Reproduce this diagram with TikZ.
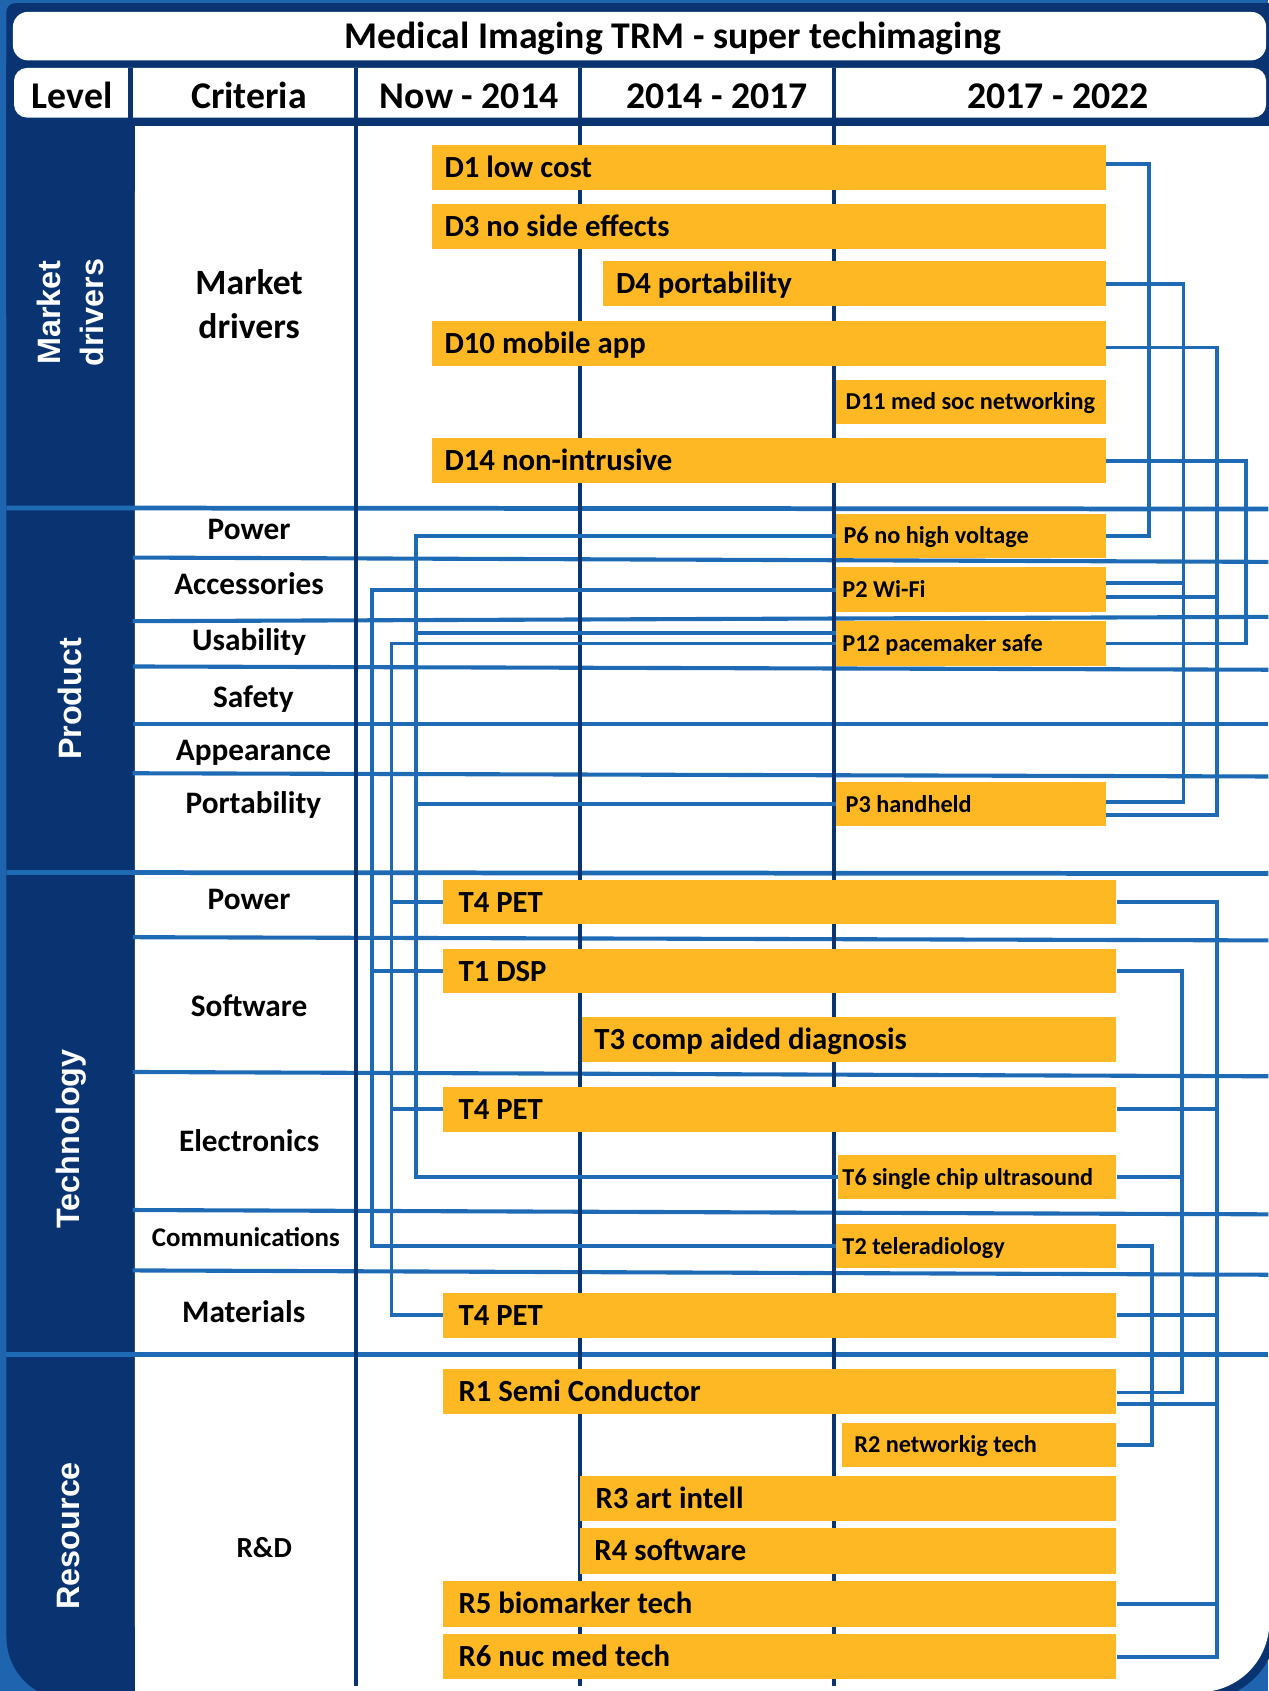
\documentclass[tikz,border=0pt]{standalone}
\usepackage{fontspec}
\setmainfont{Carlito}
\newfontfamily\levelfont{Liberation Sans}
\usetikzlibrary{positioning}

\definecolor{trmsky}{HTML}{1F64AE}
\definecolor{trmline}{HTML}{1E6AB4}
\definecolor{trmnavy}{HTML}{0A3371}
\definecolor{trmgold}{HTML}{FDB824}

\begin{document}
\begin{tikzpicture}[x=1pt, y=-1pt,
    bar/.style={fill=trmgold, anchor=north west, inner sep=0pt, minimum height=42pt},
    bartext/.style={anchor=west, inner sep=0pt, text height=18.4pt, text depth=0pt,
      font=\bfseries\fontsize{28.5}{30}\selectfont},
    smalltext/.style={bartext, text height=14.5pt, font=\bfseries\fontsize{22.5}{24}\selectfont},
    crit/.style={anchor=base, font=\bfseries\fontsize{29}{33}\selectfont},
    level/.style={rotate=90, text=white, align=center, text depth=0pt,
      font=\levelfont\bfseries\fontsize{30}{40}\selectfont},
    head/.style={anchor=base, font=\bfseries\fontsize{35}{38}\selectfont},
    link/.style={trmline, line width=3.6pt},
    divider/.style={trmline, line width=3.8pt},
    column/.style={trmnavy, line width=3.6pt}]

  \useasboundingbox (0,0) rectangle (1176,1568);
  \fill[trmsky] (0,0) rectangle (1176,1568);
  \fill[trmnavy, rounded corners=58pt] (6,3) rectangle (700,1576);
  \fill[trmnavy, rounded corners=73pt] (300,3) rectangle (1185,1577);
  \fill[trmnavy, rounded corners=8pt] (6,3) rectangle (1185,300);
  \fill[white, rounded corners=14pt] (12,11) rectangle (1174,56);
  \fill[white, rounded corners=12pt] (13,63) rectangle (1174,109);
  \fill[trmnavy] (119,63) rectangle (123,109);
  \fill[white, rounded corners=65pt] (125,117) rectangle (1177,1569);
  \fill[white] (125,117) rectangle (1100,1569);
  \fill[white] (125,117) rectangle (1177,1450);

  \draw[divider, line width=4.4pt] (6,471) -- (1176,472);
  \draw[divider, line width=4.4pt] (6,809) -- (1176,810);
  \draw[divider, line width=4.4pt] (6,1256) -- (1176,1256);
  \draw[divider] (123,517) -- (1176,521);
  \draw[divider] (123,576) -- (1176,572);
  \draw[divider] (123,618) -- (1176,621);
  \draw[divider] (123,671) -- (1176,671);
  \draw[divider] (123,717) -- (1176,720);
  \draw[divider] (123,869) -- (1176,872);
  \draw[divider] (123,994) -- (1176,998);
  \draw[divider] (123,1122) -- (1176,1126);
  \draw[divider] (123,1178) -- (1176,1182);

  \draw[column] (330,63) -- (330,1563);
  \draw[column] (538,63) -- (538,1563);
  \draw[column] (773,63) -- (773,1563);

  \node[head] (title) at (624,45) {Medical Imaging TRM - super techimaging};
  \node[head] (level) at (67,101) {Level};
  \node[head] (criteria) at (231,101) {Criteria};
  \node[head] (now) at (435,101) {Now - 2014};
  \node[head] (mid) at (665,101) {2014 - 2017};
  \node[head] (late) at (981,101) {2017 - 2022};

  \node[level] (lvl market) at (65,290) {Market\\drivers};
  \node[level] (lvl product) at (65,648) {Product};
  \node[level] (lvl tech) at (63,1056) {Technology};
  \node[level] (lvl resource) at (63,1424) {Resource};

  \node[crit, anchor=center, align=center, text depth=0pt, font=\bfseries\fontsize{33}{41}\selectfont]
    (c market) at (231,282) {Market\\drivers};
  \node[crit] (c power) at (231,500) {Power};
  \node[crit] (c access) at (231,551) {Accessories};
  \node[crit] (c usab) at (231,603) {Usability};
  \node[crit] (c safety) at (235,656) {Safety};
  \node[crit] (c appear) at (235,705) {Appearance};
  \node[crit] (c port) at (235,754) {Portability};
  \node[crit] (c tpower) at (231,843) {Power};
  \node[crit] (c soft) at (231,943) {Software};
  \node[crit] (c elec) at (231,1068) {Electronics};
  \node[crit, font=\bfseries\fontsize{25}{28}\selectfont] (c comm) at (228,1156) {Communications};
  \node[crit] (c mat) at (226,1226) {Materials};
  \node[crit, font=\bfseries\fontsize{27}{30}\selectfont] (c rnd) at (245,1444) {R\&D};

  \node[bar, minimum width=625pt] (d1) at (400,134) {};
  \node[bartext, right=12pt of d1.west] (d1 text) {D1 low cost};
  \node[bar, minimum width=625pt] (d3) at (400,189) {};
  \node[bartext, right=12pt of d3.west] (d3 text) {D3 no side effects};
  \node[bar, minimum width=466pt] (d4) at (559,242) {};
  \node[bartext, right=12pt of d4.west] (d4 text) {D4 portability};
  \node[bar, minimum width=625pt] (d10) at (400,297) {};
  \node[bartext, right=12pt of d10.west] (d10 text) {D10 mobile app};
  \node[bar, minimum width=250pt, minimum height=41pt] (d11) at (775,352) {};
  \node[smalltext, right=9pt of d11.west] (d11 text) {D11 med soc networking};
  \node[bar, minimum width=625pt] (d14) at (400,406) {};
  \node[bartext, right=12pt of d14.west] (d14 text) {D14 non-intrusive};

  \node[bar, minimum width=250pt, minimum height=41pt] (p6) at (775,476) {};
  \node[smalltext, right=7pt of p6.west] (p6 text) {P6 no high voltage};
  \node[bar, minimum width=250pt, minimum height=41pt] (p2) at (775,526) {};
  \node[smalltext, right=6pt of p2.west] (p2 text) {P2 Wi-Fi};
  \node[bar, minimum width=250pt, minimum height=41pt] (p12) at (775,576) {};
  \node[smalltext, right=6pt of p12.west] (p12 text) {P12 pacemaker safe};
  \node[bar, minimum width=250pt, minimum height=41pt] (p3) at (775,725) {};
  \node[smalltext, right=9pt of p3.west] (p3 text) {P3 handheld};

  \node[bar, minimum width=624pt, minimum height=41pt] (t4 power) at (411,816) {};
  \node[bartext, right=14pt of t4 power.west] (t4 power text) {T4 PET};
  \node[bar, minimum width=624pt, minimum height=41pt] (t1) at (411,880) {};
  \node[bartext, right=14pt of t1.west] (t1 text) {T1 DSP};
  \node[bar, minimum width=496pt] (t3) at (539,943) {};
  \node[bartext, right=12pt of t3.west] (t3 text) {T3 comp aided diagnosis};
  \node[bar, minimum width=624pt, minimum height=41pt] (t4 elec) at (411,1008) {};
  \node[bartext, right=14pt of t4 elec.west] (t4 elec text) {T4 PET};
  \node[bar, minimum width=258pt, minimum height=41pt] (t6) at (777,1071) {};
  \node[smalltext, right=4pt of t6.west] (t6 text) {T6 single chip ultrasound};
  \node[bar, minimum width=260pt, minimum height=41pt] (t2) at (775,1135) {};
  \node[smalltext, right=6pt of t2.west] (t2 text) {T2 teleradiology};
  \node[bar, minimum width=624pt, minimum height=41pt] (t4 mat) at (411,1199) {};
  \node[bartext, right=14pt of t4 mat.west] (t4 mat text) {T4 PET};

  \node[bar, minimum width=624pt] (r1) at (411,1269) {};
  \node[bartext, right=14pt of r1.west] (r1 text) {R1 Semi Conductor};
  \node[bar, minimum width=254pt, minimum height=41pt] (r2) at (781,1319) {};
  \node[smalltext, right=11pt of r2.west] (r2 text) {R2 networkig tech};
  \node[bar, minimum width=497pt] (r3) at (538,1368) {};
  \node[bartext, right=14pt of r3.west] (r3 text) {R3 art intell};
  \node[bar, minimum width=497pt] (r4) at (538,1417) {};
  \node[bartext, right=13pt of r4.west] (r4 text) {R4 software};
  \node[bar, minimum width=624pt] (r5) at (411,1466) {};
  \node[bartext, right=14pt of r5.west] (r5 text) {R5 biomarker tech};
  \node[bar, minimum width=624pt] (r6) at (411,1515) {};
  \node[bartext, right=14pt of r6.west] (r6 text) {R6 nuc med tech};

  \draw[link] ([yshift=3pt]d1.east) -- ++(40,0) |- (p6.east);
  \draw[link] (d4.east) -- ++(72,0) |- ([yshift=2pt]p3.east);
  \draw[link] ([yshift=6pt]p2.east) -- ++(72,0);
  \draw[link] ([yshift=-4pt]d10.east) -- ++(103,0) |- ([yshift=-10pt]p3.east);
  \draw[link] ([yshift=-7pt]p2.east) -- ++(103,0);
  \draw[link] (d14.east) -- ++(130,0) |- (p12.east);

  \draw[link] (p6.west) -- ++(-389,0) |- (t6.west);
  \draw[link] (p3.west) -- ++(-389,0);
  \draw[link] ([yshift=10pt]p12.west) -- ++(-389,0);
  \draw[link] (p2.west) -- ++(-430,0) |- (t2.west);
  \draw[link] (t1.west) -- ++(-66,0);
  \draw[link] (p12.west) -- ++(-412,0) |- (t4 mat.west);
  \draw[link] (t4 power.west) -- ++(-48,0);
  \draw[link] (t4 elec.west) -- ++(-48,0);

  \draw[link] (t1.east) -- ++(61,0) |- ([yshift=-1pt]r1.east);
  \draw[link] (t6.east) -- ++(61,0);
  \draw[link] (t4 power.east) -- ++(93,0) |- (r6.east);
  \draw[link] (t4 elec.east) -- ++(93,0);
  \draw[link] (t4 mat.east) -- ++(93,0);
  \draw[link] ([yshift=-12pt]r1.east) -- ++(93,0);
  \draw[link] (r5.east) -- ++(93,0);
  \draw[link] (t2.east) -- ++(33,0) |- (r2.east);
\end{tikzpicture}
\end{document}
